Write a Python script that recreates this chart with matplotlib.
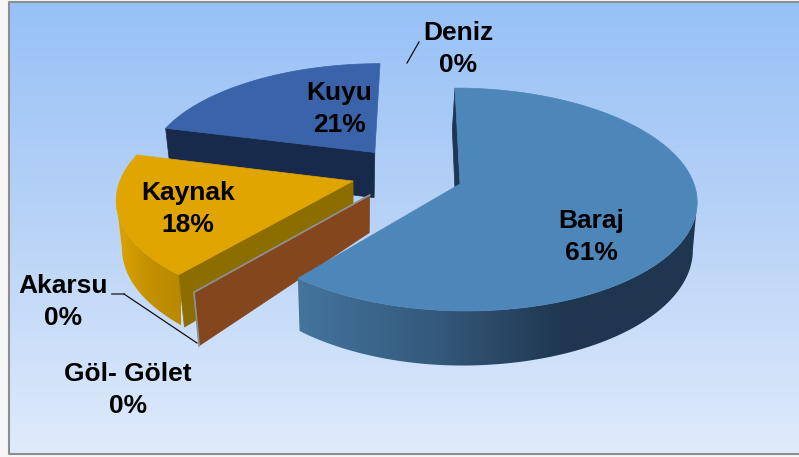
import numpy as np
import matplotlib
matplotlib.use("Agg")
import matplotlib.pyplot as plt
from matplotlib.colors import LinearSegmentedColormap
from matplotlib.patches import Polygon

# chart values
labels = ["Baraj", "Göl- Gölet", "Akarsu", "Kaynak", "Kuyu", "Deniz"]
values = [61, 0, 0, 18, 21, 0]

W, H = 799, 457

# projection of the tilted pie, fitted against the picture
CX, CY = 460, 184
RX, RY = 234, 109.3
PERSP = 0.139
SHEAR = 5.7
DEPTH = 47
VP_X, VP_K = 350, 0.00062

_z = [2]


def zs():
    _z[0] += 0.001
    return _z[0]


def project(u, v):
    s = 1 / (1 + PERSP * v)
    return CX + s * (RX * u - SHEAR * v), CY - s * RY * v, s


def rim(a0, a1, off, n=160):
    t = np.radians(np.linspace(a0, a1, n))
    return project(np.sin(t) + off[0], np.cos(t) + off[1])


def lower(x, y, s, depth=DEPTH):
    d = depth * s
    # walls lean in a little towards a vanishing point
    return x + np.clip((VP_X - x) * VP_K, -0.09, 0.12) * d, y + d


def top_face(ax, a0, a1, off, color):
    x, y, _ = rim(a0, a1, off)
    ax0, ay0, _ = project(off[0], off[1])
    pts = np.column_stack([np.r_[ax0, x], np.r_[ay0, y]])
    ax.add_patch(Polygon(pts, closed=True, fc=color, ec=color, lw=0.5, zorder=zs()))


def outer_wall(ax, a0, a1, off, cmap, x0, x1):
    # gradient image clipped to the wall outline, only the front facing part of the rim
    x, y, s = rim(a0, a1, off, 300)
    i0, i1 = np.argmax(x), np.argmin(x)
    x, y, s = x[i0:i1 + 1], y[i0:i1 + 1], s[i0:i1 + 1]
    bx, by = lower(x, y, s)
    pts = np.column_stack([np.r_[x, bx[::-1]], np.r_[y, by[::-1]]])
    z = zs()
    poly = Polygon(pts, closed=True, fc="none", ec="none", transform=ax.transData)
    ax.add_patch(poly)
    xs = np.linspace(x.min() - 2, x.max() + 2, 300)
    grad = np.clip((xs - x0) / (x1 - x0), 0, 1)[None, :]
    im = ax.imshow(grad, cmap=cmap, vmin=0, vmax=1, aspect="auto", zorder=z,
                   extent=[xs[0], xs[-1], by.max() + 2, y.min() - 2])
    im.set_clip_path(poly)


def radial_wall(ax, ang, off, color, d0=DEPTH, d1=DEPTH):
    t = np.radians(ang)
    x0, y0, s0 = project(off[0], off[1])
    x1, y1, s1 = project(np.sin(t) + off[0], np.cos(t) + off[1])
    bx0, by0 = lower(x0, y0, s0, d0)
    bx1, by1 = lower(x1, y1, s1, d1)
    pts = [(x0, y0), (x1, y1), (bx1, by1), (bx0, by0)]
    ax.add_patch(Polygon(pts, closed=True, fc=color, ec=color, lw=0.5, zorder=zs()))
    return pts


fig = plt.figure(figsize=(W / 100, H / 100), dpi=100, facecolor="#f6f6f6")
ax = fig.add_axes([0, 0, 1, 1])
ax.axis("off")

# background panel with vertical gradient
bg = LinearSegmentedColormap.from_list("bg", ["#97c1f6", "#b9d3f7", "#dfebfb"])
ax.imshow(np.linspace(0, 1, 256)[:, None], cmap=bg, extent=[8.5, W + 2, 454, 1.5],
          aspect="auto", zorder=0)
ax.plot([W + 2, 8.5, 8.5, W + 2], [1.5, 1.5, 454, 454], color="#8e8e8e", lw=1.5, zorder=1)

# slice angles come from the values, clockwise from 12 o'clock
edges = np.r_[0, np.cumsum(values)] / sum(values) * 360
ang_baraj = edges[:2]
ang_kaynak = edges[3:5]
ang_kuyu = edges[4:6]

off_baraj = (0, 0)
off_zero = (-0.383, -0.10)
off_kaynak = (-0.458, 0.027)
off_kuyu = (-0.372, 0.30)

# kuyu, furthest back
radial_wall(ax, ang_kuyu[0], off_kuyu, "#172a4b")
top_face(ax, ang_kuyu[0], ang_kuyu[1], off_kuyu, "#3a63a9")

# kaynak
wall_k = LinearSegmentedColormap.from_list("wk", ["#dba200", "#c29000", "#b98900"])
outer_wall(ax, ang_kaynak[0], ang_kaynak[1], off_kaynak, wall_k, 120, 180)
radial_wall(ax, ang_kaynak[0], off_kaynak, "#8b6d00")
top_face(ax, ang_kaynak[0], ang_kaynak[1], off_kaynak, "#e0a500")

# walls of the empty slices
pts = radial_wall(ax, ang_baraj[1], off_zero, "#84461c", d0=37, d1=47)
gx = [pts[0][0], pts[1][0], pts[2][0]]
gy = [pts[0][1], pts[1][1], pts[2][1]]
ax.plot(gx, gy, color="#8f8f8f", lw=1.3, zorder=zs())

# baraj, in front
radial_wall(ax, ang_baraj[0], off_baraj, "#1f3650")
wall_b = LinearSegmentedColormap.from_list("wb", ["#44739b", "#345a7d", "#1f364f"])
outer_wall(ax, ang_baraj[0], ang_baraj[1], off_baraj, wall_b, 302, 565)
top_face(ax, ang_baraj[0], ang_baraj[1], off_baraj, "#4d86b9")

# leader lines
ax.plot([112, 124], [294, 294], color="#444444", lw=1.2, zorder=zs())
ax.plot([124, 197], [294, 343], color="#111111", lw=0.9, zorder=zs())
ax.plot([407, 419], [63, 42], color="#111111", lw=0.9, zorder=zs())

# labels
label_xy = {
    "Baraj": (591, 237),
    "Kuyu": (339, 109),
    "Kaynak": (188, 209),
    "Akarsu": (63, 302),
    "Göl- Gölet": (128, 390),
    "Deniz": (458, 49),
}
for name, val in zip(labels, values):
    lx, ly = label_xy[name]
    ax.text(lx, ly, f"{name}\n{val}%", ha="center", va="center", color="black",
            fontsize=19, fontweight="bold", linespacing=1.42, zorder=10,
            family=["Liberation Sans", "DejaVu Sans"])

ax.set_xlim(0, W)
ax.set_ylim(H, 0)
fig.savefig("out.png", dpi=100, facecolor=fig.get_facecolor())
